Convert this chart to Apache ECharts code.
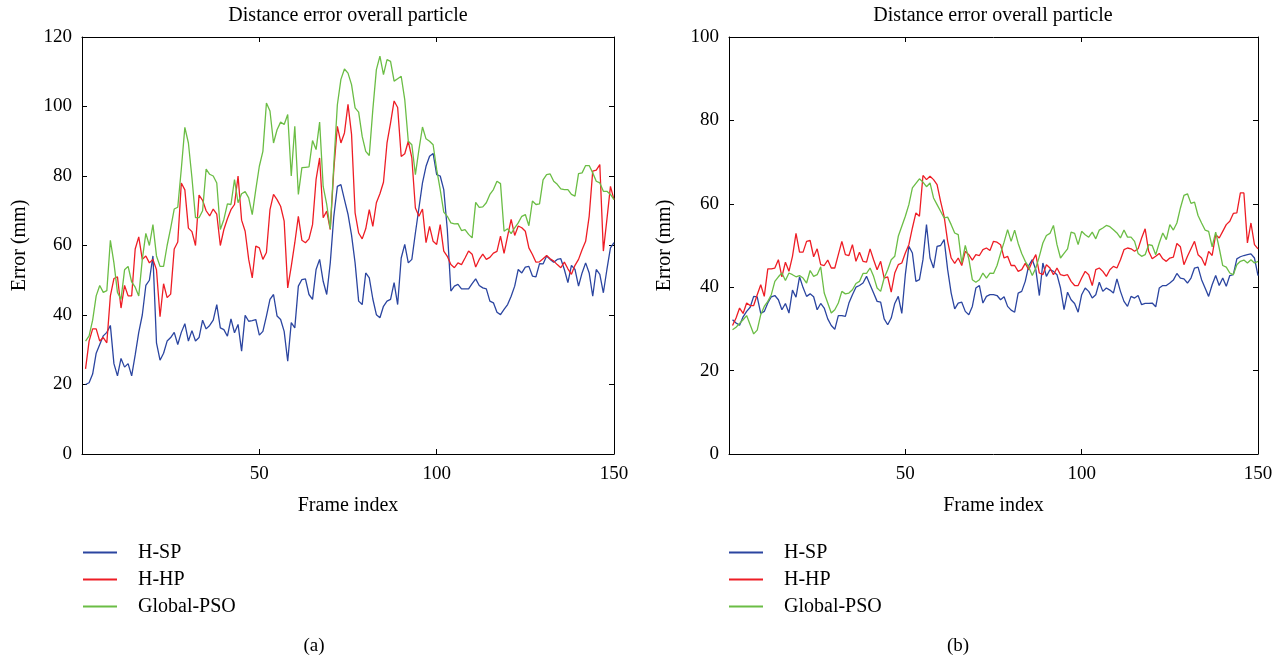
<!DOCTYPE html>
<html>
<head>
<meta charset="utf-8">
<script src="https://cdn.jsdelivr.net/npm/echarts@6/dist/echarts.min.js"></script>
<style>html,body{margin:0;padding:0;background:#fff;}#c{width:1281px;height:661px;}</style>
</head>
<body>
<div id="c"></div>
<script>
// Frame index (x values)
const frames = Array.from({length: 150}, (_, i) => i + 1);
const seriesNames = ['H-SP', 'H-HP', 'Global-PSO'];
const titleText = 'Distance error overall particle';
const xTicksLeft = [50, 100, 150];
const yTicksLeft = [0, 20, 40, 60, 80, 100, 120];
const yTicksRight = [0, 20, 40, 60, 80, 100];

// Panel (a)
const hspA = [20,20.5,23,29,31.5,34,35,37,26,22.5,27.5,25,26,22.5,28.5,35,40,48.5,50,57,32,27,29,32.5,33.5,35,31.5,35,37.5,32.5,35.5,32.5,33.5,38.5,36,37,38.5,43,
  36.3,35.8,33.9,38.9,34.9,37.3,29.6,39.9,38.2,38.4,38.7,34.2,35.3,39.7,44.5,45.9,39.7,38.7,35.3,26.7,37.8,36.3,48.3,50.2,50.4,45.9,44.5,53.1,56,49.7,45.9,55,68.4,77,77.5,73.2,69,63,
  55,44,43,52.1,50.7,44.6,40.1,39.2,42.5,44,44.5,49.3,43,56.4,60.3,55,56,63.6,70.8,78,82.8,85.7,86.5,80.4,80,76.1,64.6,46.9,48.3,48.8,47.5,47.5,47.5,49,50.4,48.5,47.8,47.5,
  44,43.5,40.8,40.1,41.6,43,45.4,48.3,53.1,52.1,53.8,54,51.2,51,54.8,54.7,57,56,55.2,56,56.2,53.1,49.3,54.3,53.1,48.3,52.1,55,52.1,45.4,53.1,51.7,46.4,53.1,59.3,60.8];
const hhpA = [24.5,32.5,36,36,32.5,33.5,32,45.5,50.5,51,42,48.5,45.5,45.5,59,62.5,56,57,55,56,53,39.5,49,45,46,59,61,78,76,65,64,60,74.5,73,70,68.5,70.5,69,
  60,64.6,67.7,70.3,71.8,80,67.3,64.1,56,50.7,59.8,59.3,56,58,70.3,74.7,73.2,71.3,67,47.8,54,60.8,68.4,61.5,60.8,61.9,66,79,85.2,68,69.9,64.6,81.9,94.3,89.5,92.4,100.6,92,
  69.4,63.6,61.9,64.8,70.3,65.5,72.3,74.9,78.2,89.5,95.3,101.6,99.7,85.6,86.4,90,85.2,70.8,68.4,70.5,60.8,65.5,61.2,60.3,66,58.4,56.9,54.5,53.6,55,54.5,56.4,58.4,57.5,53.8,56,57.5,56,
  56.6,57.8,58.3,62.7,57.7,62.7,67.5,62.9,65.6,65.1,64.1,59.3,57.4,55.2,55.3,56.2,57.1,56.2,55.5,54.5,53.6,55.2,53.3,51.7,54.3,56,58.8,61.2,68.4,81.4,81.7,83.3,58.4,67.5,77,73.2];
const gpsoA = [32.5,34,38.5,45.5,48.5,46.5,47,61.5,55,46.5,44.5,53,54,49.5,48,45.5,56,63.5,60,66,57,54,54,60,65,70.5,71,82,94,89.5,79.5,68,68,70,82,80.5,80,78,
  64.6,67.5,72,71.8,79,72.3,74.9,75.5,73.7,68.9,76.1,82.8,87.1,101,98.7,89.5,93.3,95.5,94.8,97.7,80,94.3,74.7,82.4,82.5,82.6,90.2,87.6,95.5,77,71.8,64.8,83.3,100.5,107.8,110.8,109.6,106.3,
  99.6,98.4,91.4,87.1,85.9,99.1,110.6,114.5,109.2,113.5,113,107.3,108,108.7,102,90,89,80.4,87.6,94.1,90.7,90,89,81.9,76.1,69.6,68.4,66.5,66.2,66.3,64.3,64.6,63.2,62.2,72.4,71,71.1,72.3,
  74.7,76.1,78.5,77.8,64.1,64.8,63.4,65.1,66.5,68.4,68.9,65.7,72.8,71.8,72,78.9,80.4,80.6,78.5,77.6,76.3,76.1,76.1,74.7,74.2,80.7,80.9,83,83,80.9,78.5,78,75.6,75.6,74.7,73.2];

// Panel (b)
const hspB = [32.2,31.4,30.9,32.9,34.2,35.2,37.8,37.7,33.7,34.2,36.2,37.7,38,37,34.6,36.1,33.8,39.3,37.6,42.5,39.9,37.8,38.4,37.7,34.6,36.1,35,32.4,30.8,29.9,33.2,33.2,33,36.2,38.2,40,40.4,41,
  42.6,40.6,38.6,36.6,36.4,32.4,31,32.6,36.1,37.8,33.7,43,49.8,48.2,41.4,41.8,46.6,55,47,44.6,49.8,50,51.4,44.2,38.6,34.8,36.2,36.4,34.2,33.4,35.4,39.8,40.4,36.2,37.8,38.2,38.2,38,
  37,37.7,35.4,34.5,34,38.6,39,41.4,45.2,46.6,44.2,38,45.8,42.6,44.2,43.8,43,39.8,34.6,38.8,37,36.1,34,38.2,39.8,39,37.4,38.2,41.2,39,39.8,39.3,38.6,42,39,36.6,35.4,37.8,
  37.4,38,35.8,36.1,36.1,36.2,35.3,39.8,40.4,40.4,41,41.7,43.3,42.2,42,41,42.2,44.6,44.8,41.8,39.8,37.8,40.6,42.8,40.4,42.2,40.2,42.8,43,46.8,47.3,47.6,47.8,48,47,42.8];
const hhpB = [30.8,32.6,35,33.7,36.2,35.6,35.6,38.2,40.6,37.8,44.4,44.4,44.6,46.6,42.5,46,43.8,47.4,52.9,48.4,48.4,51,51.2,47.3,49.2,45.4,45.2,46.5,44.6,44.6,47.8,51,47.8,47.6,50.2,46.2,48.4,46.2,
  46,49.2,46.6,44.2,46.2,42.2,42.5,38.8,43.4,45.4,45.8,48.2,50.2,54.2,57.8,57,66.8,65.8,66.6,65.8,64.6,60.6,57,51,47,45.7,47,45.2,48.6,47.8,46.5,47.8,47.6,49,49.4,48.8,51,50.8,
  50.2,47,47.4,45.2,45.2,43.8,44.2,45.7,44.2,46.2,47.8,43.4,43,45.4,44.6,43,44.6,43,42.8,43,41.4,40.4,40.4,42.2,43.8,43,40.4,44.2,44.6,43.8,42.6,44.2,45,44.6,46.6,49,49.4,49.2,
  48.6,49.2,51.8,54,48.6,46.8,47.4,48.1,46.8,46.2,47,47.2,50.5,49.7,45.4,47.4,49.2,51,47.8,47,45.2,48.6,47.6,52.6,51.8,53.4,55,55.8,57.7,57.8,62.6,62.6,50.6,55.4,50.2,49.2];
const gpsoB = [29.8,30.4,31.3,32.2,33.2,31,28.8,29.7,33.4,35.4,36.6,38.2,41.4,42.5,43.4,41.6,43.4,43,42.5,42.8,42.2,41,44,42.6,43,44.9,38.6,36.2,33.8,34.6,36.2,39,38.4,38.6,39.4,40.9,41.4,43.3,
  43.3,44.6,42.6,39.8,39,42.2,44.2,46.6,47.4,52.2,54.6,57,59.8,63.8,64.9,66,65.2,64.1,65,61.4,59.8,58.2,56.6,56.8,55,53,52.6,45.8,50,46.8,41.8,41.2,41.8,43.4,42.2,43.4,43.3,45.2,
  48.1,50.8,53.8,51,53.7,50.5,48.1,46.2,44.8,42.8,44.6,47.4,50.6,52.4,52.9,54.8,50.2,47,48.1,49.2,53.2,52.9,50.2,53.4,52.6,52,53.2,51.6,53.7,54.2,54.8,54.5,53.8,53,51.8,53.7,52,52,
  51,48.1,47.4,47.8,50.2,50,47.8,50.6,53,51.4,55,53.7,55.4,59,62,62.4,60.1,60.4,57.2,55.4,53.7,53.4,49.7,53.2,49.4,45.2,44.8,43.4,43,45.4,46.2,46.5,45.8,46.6,45.8,46.2];

const colors = ['#2b45a0', '#ee1d25', '#6bbd45'];
const FONT = 'Liberation Serif';

const chart = echarts.init(document.getElementById('c'), null, {renderer: 'canvas'});

function pairs(arr) { return frames.map((f, i) => [f, arr[i]]); }

function xAxes(gi) {
  const base = {
    gridIndex: gi, type: 'value', min: 0, max: 150, interval: 50,
    axisLine: {show: true, onZero: false, lineStyle: {color: '#000', width: 1}},
    axisTick: {show: true, inside: true, length: 5, lineStyle: {color: '#000'}},
    splitLine: {show: false}
  };
  return [
    Object.assign({}, base, {
      position: 'bottom',
      name: 'Frame index', nameLocation: 'middle', nameGap: 42,
      nameTextStyle: {fontFamily: FONT, fontSize: 20, color: '#000'},
      axisLabel: {show: true, margin: 11, fontFamily: FONT, fontSize: 19, color: '#000',
        formatter: v => (xTicksLeft.indexOf(v) >= 0 ? String(v) : '')}
    }),
    Object.assign({}, base, {position: 'top', axisLabel: {show: false}})
  ];
}
function yAxes(gi, max, ticks, gap) {
  const base = {
    gridIndex: gi, type: 'value', min: 0, max: max, interval: 20,
    axisLine: {show: true, onZero: false, lineStyle: {color: '#000', width: 1}},
    axisTick: {show: true, inside: true, length: 5, lineStyle: {color: '#000'}},
    splitLine: {show: false}
  };
  return [
    Object.assign({}, base, {
      position: 'left',
      name: 'Error (mm)', nameLocation: 'middle', nameGap: gap,
      nameTextStyle: {fontFamily: FONT, fontSize: 20, color: '#000'},
      axisLabel: {show: true, margin: 10, fontFamily: FONT, fontSize: 19, color: '#000',
        formatter: v => (ticks.indexOf(v) >= 0 ? String(v) : '')}
    }),
    Object.assign({}, base, {position: 'right', axisLabel: {show: false}})
  ];
}

function mkSeries(name, data, color, xi, yi) {
  return {
    name: name, type: 'line', data: pairs(data), xAxisIndex: xi, yAxisIndex: yi,
    showSymbol: false, symbol: 'none', animation: false,
    lineStyle: {color: color, width: 1.3}, itemStyle: {color: color}
  };
}

const legendBase = {
  orient: 'vertical', icon: 'rect', itemWidth: 34, itemHeight: 2, itemGap: 6, padding: 0,
  data: seriesNames,
  textStyle: {fontFamily: FONT, fontSize: 20, color: '#000', padding: [0, 0, 0, 16], lineHeight: 21},
  selectedMode: false
};

chart.setOption({
  backgroundColor: '#fff',
  animation: false,
  grid: [
    {left: 82, top: 37, width: 532, height: 417},
    {left: 729, top: 37, width: 529, height: 417}
  ],
  xAxis: [].concat(xAxes(0), xAxes(1)),
  yAxis: [].concat(yAxes(0, 120, yTicksLeft, 52), yAxes(1, 100, yTicksRight, 54)),
  legend: [
    Object.assign({}, legendBase, {left: 83, top: 542}),
    Object.assign({}, legendBase, {left: 729, top: 542})
  ],
  graphic: [
    {type: 'text', x: 348, y: 16, style: {text: titleText, fontFamily: FONT, fontSize: 20, fill: '#000', align: 'center', verticalAlign: 'middle'}},
    {type: 'text', x: 993, y: 16, style: {text: titleText, fontFamily: FONT, fontSize: 20, fill: '#000', align: 'center', verticalAlign: 'middle'}},
    {type: 'text', x: 314, y: 646, style: {text: '(a)', fontFamily: FONT, fontSize: 19, fill: '#000', align: 'center', verticalAlign: 'middle'}},
    {type: 'text', x: 958, y: 646, style: {text: '(b)', fontFamily: FONT, fontSize: 19, fill: '#000', align: 'center', verticalAlign: 'middle'}}
  ],
  series: [
    mkSeries('H-SP', hspA, colors[0], 0, 0),
    mkSeries('H-HP', hhpA, colors[1], 0, 0),
    mkSeries('Global-PSO', gpsoA, colors[2], 0, 0),
    mkSeries('H-SP', hspB, colors[0], 2, 2),
    mkSeries('H-HP', hhpB, colors[1], 2, 2),
    mkSeries('Global-PSO', gpsoB, colors[2], 2, 2)
  ]
});
</script>
</body>
</html>
